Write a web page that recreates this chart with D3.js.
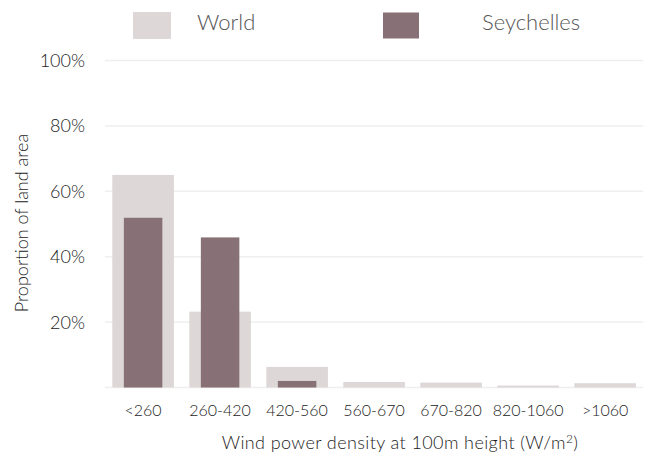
<!DOCTYPE html>
<html>
<head>
<meta charset="utf-8">
<script src="https://cdn.jsdelivr.net/npm/d3@7"></script>
<style>
  html, body { margin: 0; padding: 0; background: #fff; }
  svg text { font-family: Lato, "Open Sans", sans-serif; font-weight: 300; }
</style>
</head>
<body>
<svg id="chart" width="645" height="461"></svg>
<script>
// 风能密度分布数据
const categories = ['<260', '260-420', '420-560', '560-670', '670-820', '820-1060', '>1060'];
const worldValues = [65, 23.2, 6.3, 1.7, 1.5, 0.6, 1.3];
const seychellesValues = [51.9, 45.9, 2.0, 0, 0, 0, 0];
const yTicks = [20, 40, 60, 80, 100];
const seriesNames = ['World', 'Seychelles'];
const seriesColors = ['#ddd7d8', '#877176'];

const svg = d3.select('#chart');

const x = d3.scaleBand()
    .domain(categories)
    .range([104.6, 643.6])
    .paddingInner(0.2)
    .paddingOuter(0.1);

const y = d3.scaleLinear()
    .domain([0, 100])
    .range([387.5, 60.5]);

// 网格线
svg.append('g')
    .selectAll('line')
    .data([0].concat(yTicks))
    .enter()
    .append('line')
    .attr('x1', 105)
    .attr('x2', 643)
    .attr('y1', d => y(d))
    .attr('y2', d => y(d))
    .attr('stroke', '#efefef')
    .attr('stroke-width', 1.5);

// 世界柱子
svg.append('g')
    .selectAll('rect')
    .data(worldValues)
    .enter()
    .append('rect')
    .attr('x', (d, i) => x(categories[i]))
    .attr('y', d => y(d))
    .attr('width', x.bandwidth())
    .attr('height', d => y(0) - y(d))
    .attr('fill', seriesColors[0]);

// 塞舌尔柱子
const innerW = x.bandwidth() * 0.625;
svg.append('g')
    .selectAll('rect')
    .data(seychellesValues)
    .enter()
    .append('rect')
    .attr('x', (d, i) => x(categories[i]) + (x.bandwidth() - innerW) / 2)
    .attr('y', d => y(d))
    .attr('width', innerW)
    .attr('height', d => y(0) - y(d))
    .attr('fill', seriesColors[1]);

// y轴标签
svg.append('g')
    .selectAll('text')
    .data(yTicks)
    .enter()
    .append('text')
    .attr('x', 85)
    .attr('y', d => y(d))
    .attr('dy', '0.36em')
    .attr('text-anchor', 'end')
    .attr('font-size', 18)
    .attr('fill', '#222')
    .text(d => d + '%');

// x轴标签
svg.append('g')
    .selectAll('text')
    .data(categories)
    .enter()
    .append('text')
    .attr('x', d => x(d) + x.bandwidth() / 2)
    .attr('y', 416)
    .attr('text-anchor', 'middle')
    .attr('font-size', 16)
    .attr('fill', '#222')
    .text(d => d);

// 轴标题
svg.append('text')
    .attr('x', 400)
    .attr('y', 449)
    .attr('text-anchor', 'middle')
    .attr('font-size', 18)
    .attr('letter-spacing', 0.4)
    .attr('fill', '#222')
    .html('Wind power density at 100m height (W/m<tspan dy="-6" font-size="12">2</tspan><tspan dy="6">)</tspan>');

svg.append('text')
    .attr('transform', 'translate(28,223) rotate(-90)')
    .attr('text-anchor', 'middle')
    .attr('font-size', 18)
    .attr('fill', '#222')
    .text('Proportion of land area');

// 图例
const legend = [
    {rx: 133, ry: 12, w: 38, h: 27, tx: 197},
    {rx: 383, ry: 12.5, w: 36, h: 26, tx: 482}
];
legend.forEach((l, i) => {
    svg.append('rect')
        .attr('x', l.rx).attr('y', l.ry)
        .attr('width', l.w).attr('height', l.h)
        .attr('fill', seriesColors[i]);
    svg.append('text')
        .attr('x', l.tx).attr('y', 30)
        .attr('font-size', 22)
        .attr('fill', '#555')
        .text(seriesNames[i]);
});
</script>
</body>
</html>
